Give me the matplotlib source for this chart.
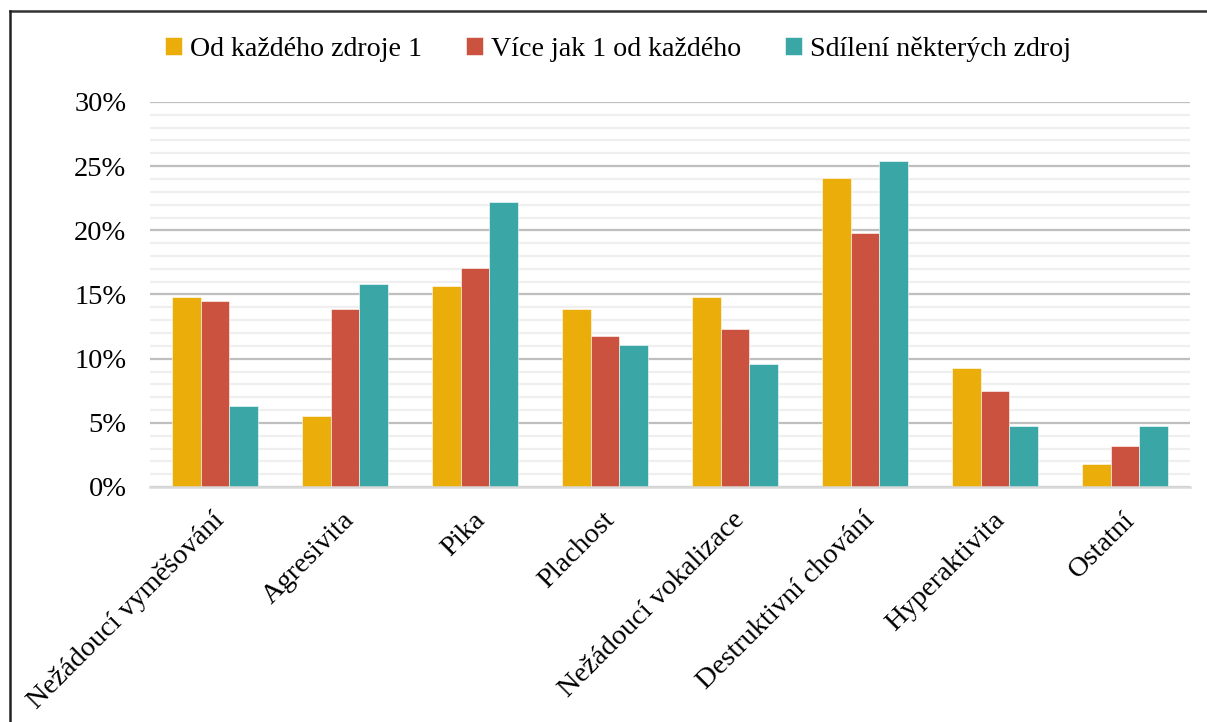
import matplotlib
matplotlib.use("Agg")
import matplotlib.pyplot as plt
from matplotlib.lines import Line2D
from matplotlib.ticker import MultipleLocator, FuncFormatter
import matplotlib.transforms as mtransforms
import numpy as np

plt.rcParams['font.family'] = ['Liberation Serif', 'DejaVu Serif']

categories = ["Nežádoucí vyměšování", "Agresivita", "Pika", "Plachost",
              "Nežádoucí vokalizace", "Destruktivní chování", "Hyperaktivita", "Ostatní"]
series_names = ["Od každého zdroje 1", "Více jak 1 od každého", "Sdílení některých zdroj"]
od_kazdeho = [14.8, 5.5, 15.7, 13.9, 14.8, 24.1, 9.3, 1.8]
vice_jak_1 = [14.5, 13.9, 17.1, 11.8, 12.3, 19.8, 7.45, 3.2]
sdileni = [6.35, 15.85, 22.2, 11.1, 9.55, 25.4, 4.75, 4.75]
colors = ["#EBAD0A", "#CB523F", "#3AA7A6"]

fig = plt.figure(figsize=(12.07, 7.22), dpi=100)
ax = fig.add_axes([150/1207, 1-487/722, 1040/1207, 385/722])

x = np.arange(len(categories))
w = 0.222
for i, (vals, name, c) in enumerate(zip([od_kazdeho, vice_jak_1, sdileni], series_names, colors)):
    ax.bar(x + (i-1)*w, np.array(vals)/100, width=w, color=c, label=name,
           edgecolor="#FFFFFF", linewidth=0.4, zorder=3)

ax.set_xlim(-0.5, len(categories)-0.5)
ax.set_ylim(0, 0.30)
ax.yaxis.set_major_locator(MultipleLocator(0.05))
ax.yaxis.set_minor_locator(MultipleLocator(0.01))
ax.yaxis.set_major_formatter(FuncFormatter(lambda v, p: f"{v*100:.0f}%"))
ax.grid(axis='y', which='major', color='#BFBFBF', linewidth=1.6, zorder=1)
ax.grid(axis='y', which='minor', color='#EFEFEF', linewidth=1.6, zorder=0)
ax.tick_params(axis='y', which='both', length=0, labelsize=20.5, pad=17)
ax.tick_params(axis='x', length=0, labelsize=20.5, pad=21)
for s in ['top', 'right', 'left']:
    ax.spines[s].set_visible(False)
ax.spines['bottom'].set_color('#D9D9D9')
ax.spines['bottom'].set_linewidth(1.8)
ax.spines['bottom'].set_zorder(4)

ax.set_xticks(x)
ax.set_xticklabels(categories, rotation=45, ha='right', va='center', rotation_mode='anchor')
offset = mtransforms.ScaledTranslation(6/100, 0, fig.dpi_scale_trans)
for lbl in ax.get_xticklabels():
    lbl.set_transform(lbl.get_transform() + offset)

fig.legend(loc='center', bbox_to_anchor=(618/1207, 1-49/722), ncol=3, frameon=False,
           fontsize=20.2, handlelength=0.6, handleheight=0.6, handletextpad=0.3,
           columnspacing=1.55)

fig.add_artist(Line2D([10/1207, 1.0], [1-11/722, 1-11/722], color='#333333', linewidth=1.8))
fig.add_artist(Line2D([10/1207, 10/1207], [0, 1-11/722], color='#222222', linewidth=1.8))

fig.savefig("out.png", dpi=100)
